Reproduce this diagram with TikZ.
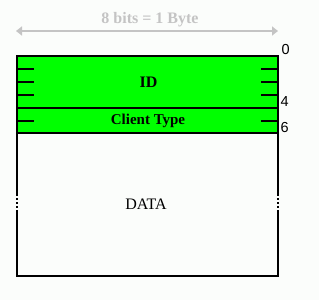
\documentclass[tikz,border=0pt]{standalone}
\usepackage{fontspec}
\setmainfont{Liberation Serif}
\newfontfamily\numfont{Liberation Sans}
\usetikzlibrary{arrows.meta}
\definecolor{bg}{HTML}{FBFDFB}
\definecolor{fieldgreen}{HTML}{00FF00}
\definecolor{dimgray}{HTML}{C4C4C4}
\begin{document}
\begin{tikzpicture}[x=1pt,y=-1pt,
  box/.style={draw=black,line width=2.2pt},
  tick/.style={draw=black,line width=2pt},
  numlbl/.style={font=\numfont\fontsize{14.5}{14.5}\selectfont,anchor=west,inner sep=0pt},
  fieldlbl/.style={font=\bfseries\fontsize{#1}{#1}\selectfont,inner sep=0pt}]
\fill[bg] (0,0) rectangle (319,300);
\useasboundingbox (0,0) rectangle (319,300);
% dimension arrow
\coordinate (dl) at (16,31);
\coordinate (dr) at (278,31);
\draw[dimgray,line width=2pt,{Triangle[length=6pt,width=9pt]}-{Triangle[length=6pt,width=9pt]}] (dl) -- (dr);
\node[font=\bfseries\fontsize{16}{16}\selectfont,text=dimgray,inner sep=0pt] (dim) at (150,20) {8 bits = 1 Byte};
% fields
\fill[fieldgreen] (17,56) rectangle (278,133);
\draw[box] (17,56) rectangle (278,276);
\draw[line width=2pt] (17,108) -- (278,108);
\draw[line width=2pt] (17,133) -- (278,133);
% ticks
\foreach \y in {68.5,81.5,94.5,120.5}{
  \draw[tick] (17,\y) -- (34,\y);
  \draw[tick] (261,\y) -- (278,\y);
}
% broken sides
\foreach \y in {197,201,205,209}{
  \draw[bg,line width=1.2pt] (15,\y) -- (19,\y);
  \draw[bg,line width=1.2pt] (276,\y) -- (280,\y);
}
% labels
\node[fieldlbl=16] (id) at (148.5,82) {ID};
\node[fieldlbl=15] (ct) at (148,121) {Client Type};
\node[font=\fontsize{16}{16}\selectfont,inner sep=0pt] (data) at (146,204) {DATA};
\node[numlbl] (n0) at (281.5,50) {0};
\node[numlbl] (n4) at (280.5,102) {4};
\node[numlbl] (n6) at (280.5,128) {6};
\end{tikzpicture}
\end{document}
